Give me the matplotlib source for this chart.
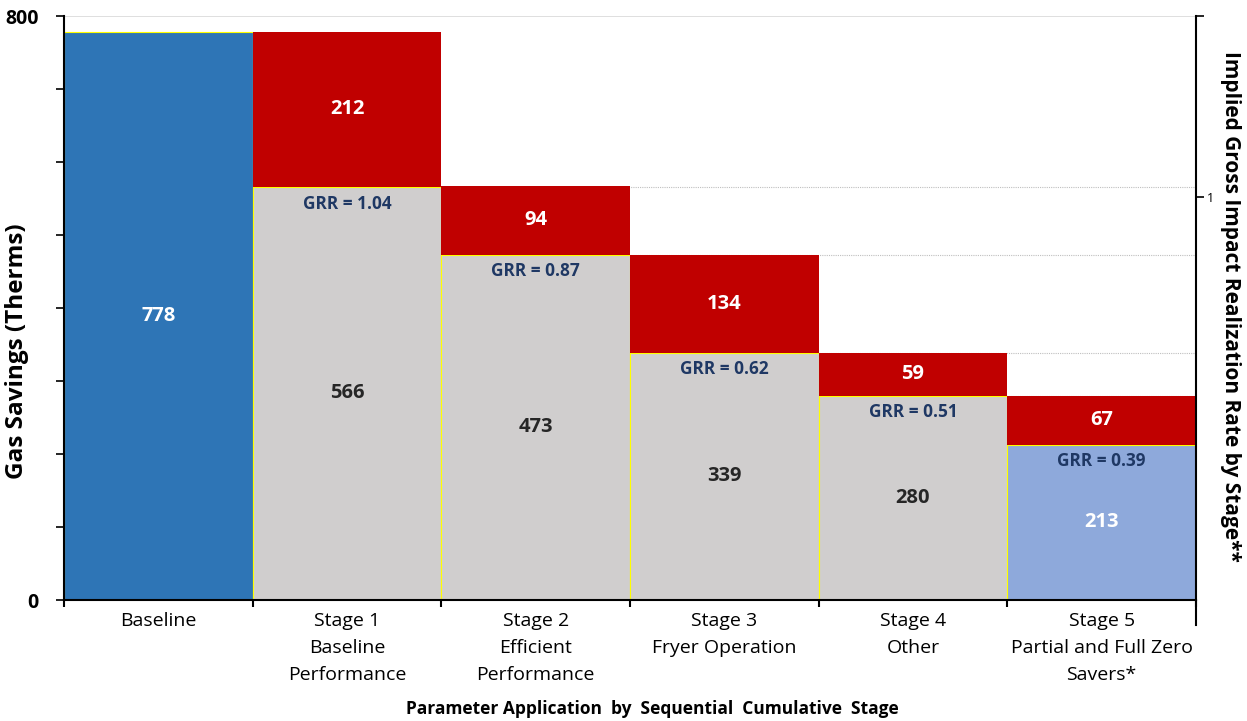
import matplotlib
matplotlib.use("Agg")
import matplotlib.pyplot as plt
import numpy as np

plt.rcParams['font.family'] = ['Open Sans', 'DejaVu Sans']

categories = ['Baseline', 'Stage 1\nBaseline\nPerformance', 'Stage 2\nEfficient\nPerformance',
              'Stage 3\nFryer Operation', 'Stage 4\nOther', 'Stage 5\nPartial and Full Zero\nSavers*']
remaining = [778, 566, 473, 339, 280, 213]
reduction = [0, 212, 94, 134, 59, 67]
grr = [None, 1.04, 0.87, 0.62, 0.51, 0.39]
grid_levels = [566, 473, 339, 280]

base_colors = ['#2E75B6', '#D0CECE', '#D0CECE', '#D0CECE', '#D0CECE', '#8EA9DB']
base_text = ['white', '#262626', '#262626', '#262626', '#262626', 'white']
red = '#C00000'
navy = '#1F3864'

W, H = 1247, 721
fig = plt.figure(figsize=(W / 100, H / 100), dpi=100)
ax = fig.add_axes([64 / W, 1 - 600 / H, (1196 - 64) / W, (600 - 16) / H])

x = np.arange(len(categories))
ax.set_xlim(-0.5, len(categories) - 0.5)
ax.set_ylim(0, 800)

# reference lines behind the bars
ax.axhline(800, color='#D9D9D9', lw=1.2, zorder=0)
for lvl in grid_levels:
    ax.axhline(lvl, color='#BFBFBF', lw=0.8, ls=(0, (1, 1)), zorder=0)

ax.bar(x, remaining, width=1.0, color=base_colors, edgecolor='#FFFF00', linewidth=0.8, zorder=2)
ax.bar(x, reduction, bottom=remaining, width=1.0, color=red, edgecolor='#FFFF00', linewidth=0.0, zorder=2)

for i in range(len(categories)):
    ax.text(x[i], remaining[i] / 2, str(remaining[i]), ha='center', va='center',
            color=base_text[i], fontsize=14.5, fontweight='bold', zorder=3)
    if reduction[i] > 0:
        ax.text(x[i], remaining[i] + reduction[i] / 2, str(reduction[i]), ha='center', va='center',
                color='white', fontsize=14.5, fontweight='bold', zorder=3)
    if grr[i] is not None:
        ax.text(x[i], remaining[i] - 23, f'GRR = {grr[i]:.2f}', ha='center', va='center',
                color=navy, fontsize=12.4, fontweight='bold', zorder=3)

# axes styling
for side in ['top', 'right']:
    ax.spines[side].set_visible(False)
ax.spines['left'].set_linewidth(1.5)
ax.spines['bottom'].set_linewidth(1.5)

ax.set_yticks(np.arange(0, 801, 100))
ax.set_yticklabels(['0', '', '', '', '', '', '', '', '800'], fontsize=14, fontweight='bold')
ax.tick_params(axis='y', direction='out', length=6, width=1.2, pad=12)

ax.set_xticks(np.arange(-0.5, len(categories), 1.0))
ax.set_xticklabels([])
ax.tick_params(axis='x', direction='out', length=5, width=1.5)
for i, lab in enumerate(categories):
    ax.text(x[i], -17, lab, ha='center', va='top', fontsize=14, linespacing=1.62,
            transform=ax.transData, clip_on=False)

fig.text(17 / W, 1 - 351 / H, 'Gas Savings (Therms)', rotation=90, ha='center', va='center',
         fontsize=17.5, fontweight='bold')
fig.text(652 / W, 1 - 709 / H, 'Parameter Application  by  Sequential  Cumulative  Stage',
         ha='center', va='center', fontsize=12.5, fontweight='bold')

# secondary scale for the realization rate
ax2 = ax.twinx()
ax2.set_ylim(0, 584 / 403)
for side in ['top', 'left', 'bottom']:
    ax2.spines[side].set_visible(False)
ax2.spines['right'].set_linewidth(1.5)
ax2.set_yticks([1, 584 / 403])
ax2.set_yticklabels(['1', ''], fontsize=9)
ax2.tick_params(axis='y', direction='out', length=6, width=1.2, pad=2)
ax2.plot([1, 1], [0, -0.043], transform=ax2.transAxes, color='black', lw=1.5, clip_on=False)
fig.text(1230 / W, 1 - 306 / H, 'Implied Gross Impact Realization Rate by Stage**', rotation=270,
         ha='center', va='center', fontsize=15, fontweight='bold')

fig.savefig('out.png', dpi=100)
